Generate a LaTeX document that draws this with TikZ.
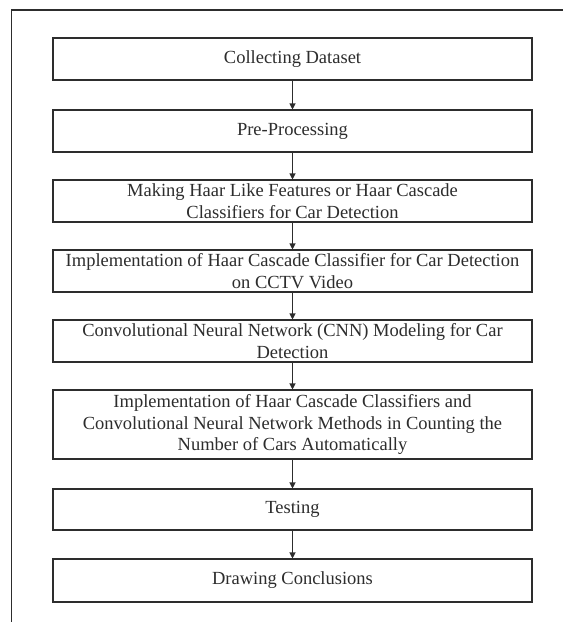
\documentclass[tikz,border=0pt]{standalone}
\usepackage{fontspec}
\setmainfont{Liberation Serif}
\usetikzlibrary{arrows.meta}
\definecolor{ln}{RGB}{45,45,45}
\begin{document}
\begin{tikzpicture}[x=1pt,y=-1pt,
  stepbox/.style={draw=ln,line width=1.1pt,minimum width=479pt,inner sep=0pt,align=center,
    font=\fontsize{18.5}{21.7}\selectfont,text=ln},
  conn/.style={draw=ln,line width=1.1pt,-{Triangle[length=6pt,width=6pt]}}]
\useasboundingbox (0,0) rectangle (563,622);
\fill[white] (0,0) rectangle (563,622);
\draw[ln,line width=1.1pt] (11.5,622) -- (11.5,10) -- (563,10);
\node[stepbox,minimum height=42pt] (b1) at (292.5,59) {Collecting Dataset};
\node[stepbox,minimum height=42pt] (b2) at (292.5,131) {Pre-Processing};
\node[stepbox,minimum height=42pt] (b3) at (292.5,201) {Making Haar Like Features or Haar Cascade\\Classifiers for Car Detection};
\node[stepbox,minimum height=42pt] (b4) at (292.5,271) {Implementation of Haar Cascade Classifier for Car Detection\\on CCTV Video};
\node[stepbox,minimum height=42pt] (b5) at (292.5,341) {Convolutional Neural Network (CNN) Modeling for Car\\Detection};
\node[stepbox,minimum height=69pt] (b6) at (292.5,424.5) {Implementation of Haar Cascade Classifiers and\\Convolutional Neural Network Methods in Counting the\\Number of Cars Automatically};
\node[stepbox,minimum height=41pt] (b7) at (292.5,509.5) {Testing};
\node[stepbox,minimum height=43pt] (b8) at (292.5,580.5) {Drawing Conclusions};
\foreach \a/\b in {b1/b2,b2/b3,b3/b4,b4/b5,b5/b6,b6/b7,b7/b8}
  \draw[conn] (\a.south) -- (\b.north);
\end{tikzpicture}
\end{document}
